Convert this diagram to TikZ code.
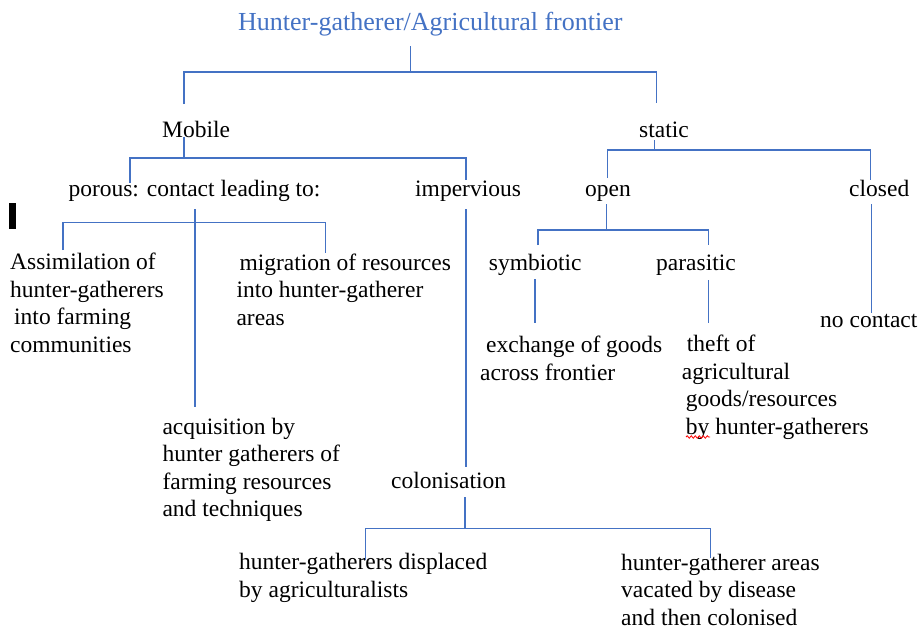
\documentclass[tikz,border=0pt]{standalone}
\usepackage{fontspec}
\setmainfont{Liberation Serif}
\usepackage{tikz}
\usetikzlibrary{decorations.pathmorphing}
\definecolor{wordblue}{HTML}{4472C4}
\tikzset{
  lbl/.style={anchor=base west, inner sep=0pt, align=left},
  branch/.style={draw=wordblue, line width=1.3pt}
}

\begin{document}
\begin{tikzpicture}[x=1pt, y=-1pt, font=\fontsize{23.5}{27.4}\selectfont]
  \useasboundingbox (0,0) rectangle (921,629);
  % labels (multi-line ones sit on their last line)
  \node[lbl, text=wordblue, font=\fontsize{26}{30}\selectfont] (title) at (238,30)
    {Hunter-gatherer/Agricultural frontier};
  \node[lbl] (mobile) at (162,137.5) {Mobile};
  \node[lbl] (static) at (639,137.5) {static};
  \node[lbl] (porous) at (68.3,196) {porous: contact leading to:};
  \node[lbl] (impervious) at (415,196) {impervious};
  \node[lbl] (open) at (585,196) {open};
  \node[lbl] (closed) at (849,196) {closed};
  \node[lbl] (symbiotic) at (488.7,270) {symbiotic};
  \node[lbl] (parasitic) at (656,270) {parasitic};
  \node[lbl] (assimilation) at (10,352)
    {Assimilation of\\hunter-gatherers\\\hspace*{4pt}into farming\\communities};
  \node[lbl] (migration) at (236.3,325)
    {\hspace*{3pt}migration of resources\\into hunter-gatherer\\areas};
  \node[lbl] (noContact) at (820,327) {no contact};
  \node[lbl] (exchange) at (480,380)
    {\hspace*{6pt}exchange of goods\\across frontier};
  \node[lbl] (theft) at (681.7,434)
    {\hspace*{5pt}theft of\\agricultural\\\hspace*{4pt}goods/resources\\\hspace*{4pt}by hunter-gatherers};
  \node[lbl] (acquisition) at (162.3,516.7)
    {acquisition by\\hunter gatherers of\\farming resources\\and techniques};
  \node[lbl] (colonisation) at (391,488) {colonisation};
  \node[lbl] (displaced) at (239,597)
    {hunter-gatherers displaced\\by agriculturalists};
  \node[lbl] (vacated) at (621,625)
    {hunter-gatherer areas\\vacated by disease\\and then colonised};

  % junction points
  \coordinate (titleStem) at (410.7,46);
  \coordinate (titleBar) at (410.7,72);
  \coordinate (mobileUp) at (184,104);
  \coordinate (staticUp) at (656.7,103);
  \coordinate (mobileStem) at (184,137);
  \coordinate (mobileBar) at (184,158);
  \coordinate (porousUp) at (130,183);
  \coordinate (imperviousUp) at (466,180);
  \coordinate (staticStem) at (654.3,140);
  \coordinate (staticBar) at (654.3,150);
  \coordinate (openUp) at (607.7,178);
  \coordinate (closedUp) at (870.7,180);
  \coordinate (openStem) at (606.7,204);
  \coordinate (openBar) at (606.7,230);
  \coordinate (symbioticUp) at (538,245);
  \coordinate (parasiticUp) at (708.7,245);
  \coordinate (porousStem) at (195,209);
  \coordinate (porousBar) at (195,222.7);
  \coordinate (acquisitionUp) at (195,407);
  \coordinate (assimilationUp) at (63,250);
  \coordinate (migrationUp) at (325.7,253);
  \coordinate (colonStem) at (465,497);
  \coordinate (colonBar) at (465,528.3);
  \coordinate (displacedUp) at (365.7,560);
  \coordinate (vacatedUp) at (710.7,558);

  % tree
  \draw[branch] (titleStem) -- (titleBar);
  \draw[branch] (mobileUp) |- (titleBar) -| (staticUp);
  \draw[branch] (mobileStem) -- (mobileBar);
  \draw[branch] (porousUp) |- (mobileBar) -| (imperviousUp);
  \draw[branch] (staticStem) -- (staticBar);
  \draw[branch] (openUp) |- (staticBar) -| (closedUp);
  \draw[branch] (openStem) -- (openBar);
  \draw[branch] (symbioticUp) |- (openBar) -| (parasiticUp);
  \draw[branch] (535,279) -- (535,323);
  \draw[branch] (708.7,280) -- (708.7,323);
  \draw[branch] (871.7,204) -- (871.7,313);
  \draw[branch] (porousStem) -- (acquisitionUp);
  \draw[branch] (assimilationUp) |- (porousBar) -| (migrationUp);
  \draw[branch] (466,209) -- (466,467);
  \draw[branch] (colonStem) -- (colonBar);
  \draw[branch] (displacedUp) |- (colonBar) -| (vacatedUp);

  % stray marks
  \fill (9.3,203) rectangle (15.7,229);
  \draw[red, line width=0.8pt, decorate,
    decoration={snake, amplitude=1.2pt, segment length=4pt}]
    (686,437) -- (710,437);
\end{tikzpicture}
\end{document}
